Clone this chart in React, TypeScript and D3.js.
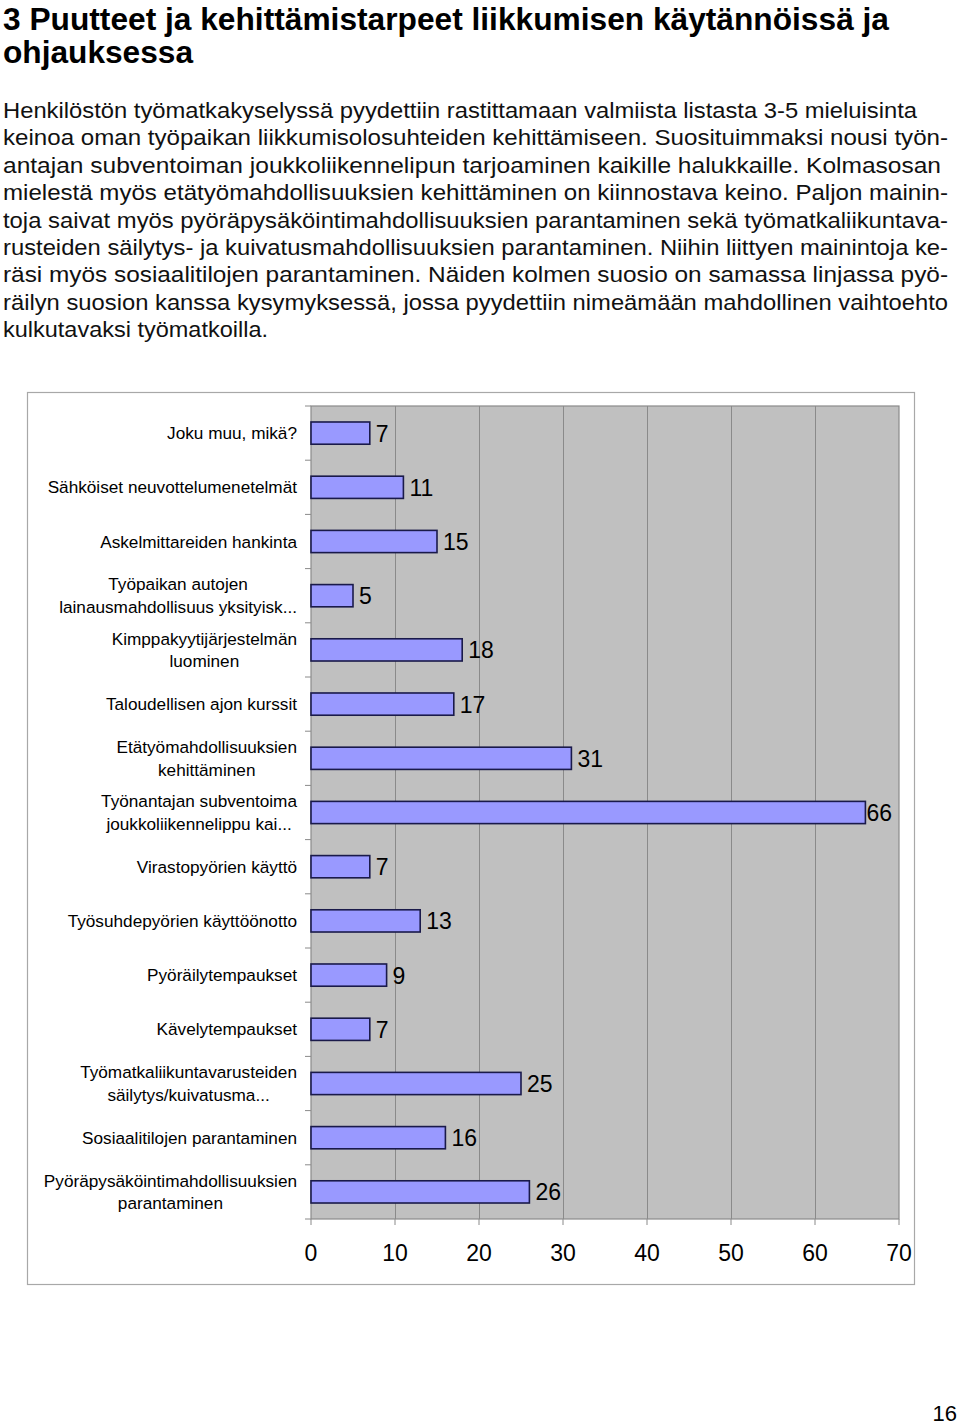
import React, { useEffect, useRef } from "react";
import * as d3 from "d3";

const titleLines = [
  "3 Puutteet ja kehittämistarpeet liikkumisen käytännöissä ja",
  "ohjauksessa",
];
const titleWidths = [886, 190];

const paragraphLines = [
  "Henkilöstön työmatkakyselyssä pyydettiin rastittamaan valmiista listasta 3-5 mieluisinta",
  "keinoa oman työpaikan liikkumisolosuhteiden kehittämiseen. Suosituimmaksi nousi työn-",
  "antajan subventoiman joukkoliikennelipun tarjoaminen kaikille halukkaille. Kolmasosan",
  "mielestä myös etätyömahdollisuuksien kehittäminen on kiinnostava keino. Paljon mainin-",
  "toja saivat myös pyöräpysäköintimahdollisuuksien parantaminen sekä työmatkaliikuntava-",
  "rusteiden säilytys- ja kuivatusmahdollisuuksien parantaminen. Niihin liittyen mainintoja ke-",
  "räsi myös sosiaalitilojen parantaminen. Näiden kolmen suosio on samassa linjassa pyö-",
  "räilyn suosion kanssa kysymyksessä, jossa pyydettiin nimeämään mahdollinen vaihtoehto",
  "kulkutavaksi työmatkoilla.",
];
const paragraphWidths = [914, 945, 938, 945, 945, 945, 945, 945, 265];

const categories = [
  ["Joku muu, mikä?"],
  ["Sähköiset neuvottelumenetelmät"],
  ["Askelmittareiden hankinta"],
  ["Työpaikan autojen", "lainausmahdollisuus yksityisk..."],
  ["Kimppakyytijärjestelmän", "luominen"],
  ["Taloudellisen ajon kurssit"],
  ["Etätyömahdollisuuksien", "kehittäminen"],
  ["Työnantajan subventoima", "joukkoliikennelippu kai..."],
  ["Virastopyörien käyttö"],
  ["Työsuhdepyörien käyttöönotto"],
  ["Pyöräilytempaukset"],
  ["Kävelytempaukset"],
  ["Työmatkaliikuntavarusteiden", "säilytys/kuivatusma..."],
  ["Sosiaalitilojen parantaminen"],
  ["Pyöräpysäköintimahdollisuuksien", "parantaminen"],
];
const values = [7, 11, 15, 5, 18, 17, 31, 66, 7, 13, 9, 7, 25, 16, 26];
const xTicks = [0, 10, 20, 30, 40, 50, 60, 70];
const pageNumber = "16";

const FONT = "'Liberation Sans', Arial, sans-serif";

export default function App() {
  const ref = useRef<SVGSVGElement>(null);

  useEffect(() => {
    const svg = d3.select(ref.current);
    svg.selectAll("*").remove();

    // Title
    svg
      .append("g")
      .selectAll("text")
      .data(titleLines)
      .join("text")
      .attr("x", 3)
      .attr("y", (_, i) => 30 + i * 33)
      .attr("font-family", FONT)
      .attr("font-weight", "bold")
      .attr("font-size", 31.5)
      .attr("fill", "#000")
      .attr("textLength", (_, i) => titleWidths[i])
      .attr("lengthAdjust", "spacingAndGlyphs")
      .text((d) => d);

    // Paragraph
    svg
      .append("g")
      .selectAll("text")
      .data(paragraphLines)
      .join("text")
      .attr("x", 3)
      .attr("y", (_, i) => 118 + i * 27.4)
      .attr("font-family", FONT)
      .attr("font-size", 22.5)
      .attr("fill", "#111")
      .attr("textLength", (_, i) => paragraphWidths[i])
      .attr("lengthAdjust", "spacingAndGlyphs")
      .text((d) => d);

    // Chart frame
    svg
      .append("rect")
      .attr("x", 27.5)
      .attr("y", 392.5)
      .attr("width", 887)
      .attr("height", 892)
      .attr("fill", "#fff")
      .attr("stroke", "#a8a8a8")
      .attr("stroke-width", 1.2);

    const plot = { left: 311, right: 899, top: 406, bottom: 1219 };
    const x = d3.scaleLinear().domain([0, 70]).range([plot.left, plot.right]);
    const y = d3
      .scaleBand<number>()
      .domain(d3.range(categories.length))
      .range([plot.top, plot.bottom])
      .paddingInner(0.59)
      .paddingOuter(0.295);
    const band = (plot.bottom - plot.top) / categories.length;

    const g = svg.append("g");
    g.append("rect")
      .attr("x", plot.left)
      .attr("y", plot.top)
      .attr("width", plot.right - plot.left)
      .attr("height", plot.bottom - plot.top)
      .attr("fill", "#c0c0c0");

    // gridlines
    g.selectAll("line.grid")
      .data(xTicks.filter((t) => t > 0 && t < 70))
      .join("line")
      .attr("class", "grid")
      .attr("x1", (d) => Math.round(x(d)) + 0.5)
      .attr("x2", (d) => Math.round(x(d)) + 0.5)
      .attr("y1", plot.top)
      .attr("y2", plot.bottom)
      .attr("stroke", "#8a8a8a")
      .attr("stroke-width", 1);

    // plot border
    g.append("rect")
      .attr("x", plot.left)
      .attr("y", plot.top)
      .attr("width", plot.right - plot.left)
      .attr("height", plot.bottom - plot.top)
      .attr("fill", "none")
      .attr("stroke", "#8a8a8a")
      .attr("stroke-width", 1.2);

    // left ticks at band boundaries
    g.selectAll("line.ytick")
      .data(d3.range(categories.length + 1))
      .join("line")
      .attr("class", "ytick")
      .attr("x1", plot.left - 6)
      .attr("x2", plot.left)
      .attr("y1", (d) => plot.top + d * band)
      .attr("y2", (d) => plot.top + d * band)
      .attr("stroke", "#8a8a8a");

    // bottom ticks
    g.selectAll("line.xtick")
      .data(xTicks)
      .join("line")
      .attr("class", "xtick")
      .attr("x1", (d) => x(d))
      .attr("x2", (d) => x(d))
      .attr("y1", plot.bottom)
      .attr("y2", plot.bottom + 6)
      .attr("stroke", "#8a8a8a");

    // x tick labels
    g.selectAll("text.xlab")
      .data(xTicks)
      .join("text")
      .attr("class", "xlab")
      .attr("x", (d) => x(d))
      .attr("y", 1261)
      .attr("text-anchor", "middle")
      .attr("font-family", FONT)
      .attr("font-size", 23)
      .attr("fill", "#000")
      .text((d) => d);

    // bars
    g.selectAll("rect.bar")
      .data(values)
      .join("rect")
      .attr("class", "bar")
      .attr("x", x(0))
      .attr("y", (_, i) => y(i)!)
      .attr("width", (d) => x(d) - x(0))
      .attr("height", y.bandwidth())
      .attr("fill", "#9999ff")
      .attr("stroke", "#1a1a4a")
      .attr("stroke-width", 1.6);

    // value labels
    g.selectAll("text.val")
      .data(values)
      .join("text")
      .attr("class", "val")
      .attr("x", (d) => x(d) + (d > 60 ? 1 : 6))
      .attr("y", (_, i) => y(i)! + y.bandwidth() / 2 + 8.5)
      .attr("font-family", FONT)
      .attr("font-size", 23)
      .attr("fill", "#000")
      .text((d) => d);

    // category labels (multi-line blocks centered, right-aligned as a block)
    const labelRight = 297;
    const lineH = 22.5;
    categories.forEach((lines, i) => {
      const cy = plot.top + (i + 0.5) * band;
      const grp = g.append("g");
      const texts = lines.map((line, j) =>
        grp
          .append("text")
          .attr("font-family", FONT)
          .attr("font-size", 17.2)
          .attr("fill", "#000")
          .attr("y", cy + (j - (lines.length - 1) / 2) * lineH + 6)
          .text(line)
      );
      const widths = texts.map((t) => (t.node() as SVGTextElement).getComputedTextLength());
      const maxW = Math.max(...widths);
      const cx = labelRight - maxW / 2;
      texts.forEach((t) => t.attr("x", cx).attr("text-anchor", "middle"));
    });

    // page number
    svg
      .append("text")
      .attr("x", 957)
      .attr("y", 1421)
      .attr("text-anchor", "end")
      .attr("font-family", FONT)
      .attr("font-size", 22)
      .attr("fill", "#000")
      .text(pageNumber);
  }, []);

  return (
    <svg
      ref={ref}
      width={960}
      height={1425}
      style={{ position: "absolute", left: 0, top: 0, background: "#fff" }}
    />
  );
}
